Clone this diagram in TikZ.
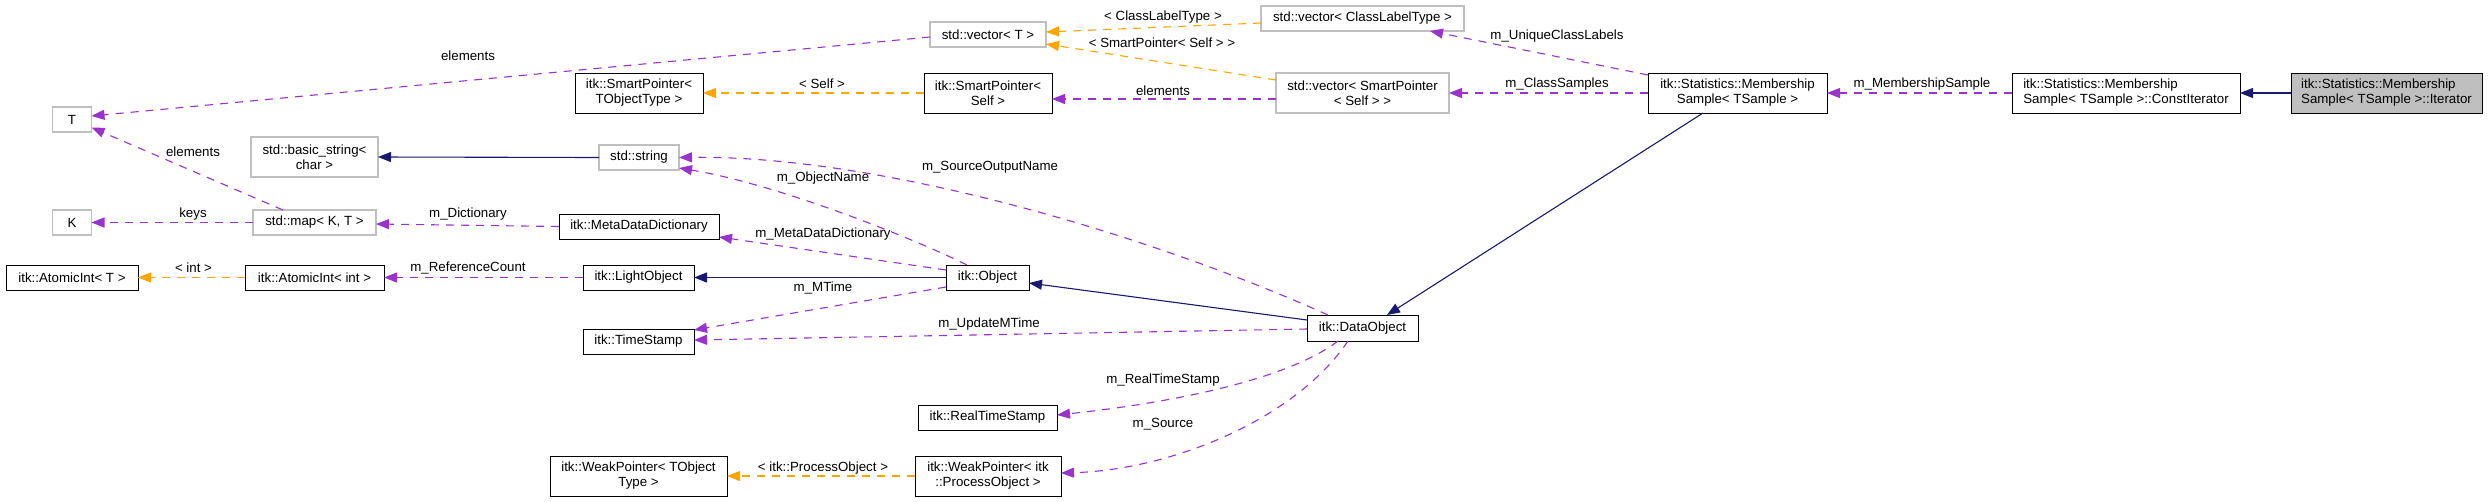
\documentclass[tikz,border=0pt]{standalone}
\usepackage{fontspec}
\setmainfont{Liberation Sans}
\usetikzlibrary{arrows.meta}
\definecolor{edgepurple}{HTML}{9A32CD}
\definecolor{edgeorange}{HTML}{FFA500}
\definecolor{edgeblue}{HTML}{191970}
\definecolor{boxgrey}{HTML}{BFBFBF}
\begin{document}
\begin{tikzpicture}[x=1pt,y=-1pt,
  every node/.style={font=\fontsize{13.3}{15}\selectfont, inner sep=0pt, outer sep=0pt},
  box/.style={draw=black, line width=1pt, align=center, fill=white},
  gbox/.style={box, draw=boxgrey, line width=1.2pt},
  wh/.style 2 args={minimum width=#1pt, minimum height=#2pt},
  lbl/.style={text=black},
  usearrow/.style={draw=edgepurple, line width=1.1pt, dash pattern=on 8pt off 7pt, -{Triangle[length=13pt,width=10pt]}},
  tplarrow/.style={usearrow, draw=edgeorange},
  inharrow/.style={draw=edgeblue, line width=1.1pt, -{Triangle[length=13pt,width=10pt]}}
]
\useasboundingbox[fill=white] (0,0) rectangle (2488,501);

% nodes
\node[gbox, wh={39}{25}] (T) at (72,119.5) {T};
\node[gbox, wh={39}{25}] (K) at (72,222.5) {K};
\node[gbox, wh={127}{40}] (bstr) at (314.5,157) {std::basic\_string<\\char >};
\node[gbox, wh={123}{25}] (map) at (314.5,222.5) {std::map< K, T >};
\node[box, wh={132}{25}] (AIT) at (72,277.5) {itk::AtomicInt< T >};
\node[box, wh={139}{25}] (AIint) at (314.5,277.5) {itk::AtomicInt< int >};
\node[box, wh={128}{40}] (SPT) at (639,93) {itk::SmartPointer<\\TObjectType >};
\node[gbox, wh={80}{25}] (str) at (639,157.5) {std::string};
\node[box, wh={160}{25}] (MDD) at (639,226.5) {itk::MetaDataDictionary};
\node[box, wh={111}{25}] (LO) at (638.5,277.5) {itk::LightObject};
\node[box, wh={111}{25}] (TS) at (638.5,341.5) {itk::TimeStamp};
\node[box, wh={177}{40}] (WPT) at (638.5,476) {itk::WeakPointer< TObject\\Type >};
\node[gbox, wh={116}{25}] (vecT) at (988,34.5) {std::vector< T >};
\node[box, wh={128}{40}] (SPS) at (988,93) {itk::SmartPointer<\\Self >};
\node[box, wh={83}{25}] (Obj) at (987.5,277.5) {itk::Object};
\node[box, wh={139}{25}] (RTS) at (987.5,417.5) {itk::RealTimeStamp};
\node[box, wh={146}{40}] (WPPO) at (988,476) {itk::WeakPointer< itk\\::ProcessObject >};
\node[gbox, wh={203}{25}] (vecCLT) at (1362.5,18.5) {std::vector< ClassLabelType >};
\node[gbox, wh={173}{40}] (vecSP) at (1362.5,93) {std::vector< SmartPointer\\< Self > >};
\node[box, wh={111}{26}] (DO) at (1362.5,328) {itk::DataObject};
\node[box, wh={179}{40}] (MS) at (1737.5,93) {itk::Statistics::Membership\\Sample< TSample >};
\node[box, wh={228}{40}, align=left] (CI) at (2126,93) {itk::Statistics::Membership\\Sample< TSample >::ConstIterator};
\node[box, wh={191}{40}, align=left, fill=boxgrey] (It) at (2386.5,93) {itk::Statistics::Membership\\Sample< TSample >::Iterator};

% usage edges (purple)
\draw[usearrow] ([yshift=-2.5pt]vecT.west) -- ([yshift=3.5pt]T.east);
\draw[usearrow] ([xshift=-31.5pt]map.north) -- ([yshift=-8pt]T.east);
\draw[usearrow] (map.west) -- (K.east);
\draw[usearrow] (MDD.west) -- ([yshift=-1.5pt]map.east);
\draw[usearrow] (LO.west) -- (AIint.east);
\draw[usearrow] ([yshift=-6pt]vecSP.west) -- ([yshift=-6pt]SPS.east);
\draw[usearrow] ([yshift=-2pt]MS.north west) -- ([xshift=67.5pt]vecCLT.south);
\draw[usearrow] (MS.west) -- (vecSP.east);
\draw[usearrow] (CI.west) -- (MS.east);
\draw[usearrow] ([xshift=-20.5pt]Obj.north) .. controls (917,240) and (781,185) .. ([yshift=-10.5pt]str.east);
\draw[usearrow] ([xshift=-34.5pt]DO.north) .. controls (1150,235) and (880,155) .. (str.east);
\draw[usearrow] ([yshift=7.5pt]Obj.west) -- ([yshift=-10.5pt]MDD.east);
\draw[usearrow] ([yshift=-9.5pt]Obj.west) -- ([yshift=11.5pt]TS.east);
\draw[usearrow] ([yshift=-1pt]DO.west) -- ([yshift=1.5pt]TS.east);
\draw[usearrow] ([xshift=-24.5pt]DO.south) .. controls (1290,378) and (1179,402) .. ([yshift=2.5pt]RTS.east);
\draw[usearrow] ([xshift=-14.5pt]DO.south) .. controls (1295,420) and (1170,470) .. ([yshift=3pt]WPPO.east);

% template edges (orange)
\draw[tplarrow] ([yshift=-4.5pt]vecCLT.west) -- ([yshift=2.5pt]vecT.east);
\draw[tplarrow] ([yshift=13pt]vecSP.west) -- ([yshift=-9.5pt]vecT.east);
\draw[tplarrow] (SPS.west) -- (SPT.east);
\draw[tplarrow] (AIint.west) -- (AIT.east);
\draw[tplarrow] (WPPO.west) -- (WPT.east);

% inheritance edges (blue)
\draw[inharrow] (str.west) -- (bstr.east);
\draw[inharrow] (Obj.west) -- (LO.east);
\draw[inharrow] ([yshift=8pt]DO.west) -- ([yshift=-5.5pt]Obj.east);
\draw[inharrow] ([xshift=-34.5pt]MS.south) -- ([xshift=24.5pt]DO.north);
\draw[inharrow] (It.west) -- (CI.east);

% labels
\node[lbl] (lElem1) at (468,56) {elements};
\node[lbl] (lElem2) at (193,152) {elements};
\node[lbl] (lKeys) at (193,214) {keys};
\node[lbl] (lInt) at (193.5,268) {< int >};
\node[lbl] (lDict) at (468,214) {m\_Dictionary};
\node[lbl] (lRef) at (468,268) {m\_ReferenceCount};
\node[lbl] (lSelf) at (822,84) {< Self >};
\node[lbl] (lObjName) at (823,178) {m\_ObjectName};
\node[lbl] (lMDD) at (823,234) {m\_MetaDataDictionary};
\node[lbl] (lMTime) at (823,288) {m\_MTime};
\node[lbl] (lPO) at (823,468) {< itk::ProcessObject >};
\node[lbl] (lSON) at (990,167) {m\_SourceOutputName};
\node[lbl] (lUMT) at (989,324) {m\_UpdateMTime};
\node[lbl] (lCLT) at (1163,17) {< ClassLabelType >};
\node[lbl] (lSPS) at (1162,43) {< SmartPointer< Self > >};
\node[lbl] (lElem3) at (1163,91) {elements};
\node[lbl] (lRTS) at (1163,380) {m\_RealTimeStamp};
\node[lbl] (lSrc) at (1163,424) {m\_Source};
\node[lbl] (lUCL) at (1557,36) {m\_UniqueClassLabels};
\node[lbl] (lCS) at (1557,84) {m\_ClassSamples};
\node[lbl] (lMS) at (1922,84) {m\_MembershipSample};
\end{tikzpicture}
\end{document}
